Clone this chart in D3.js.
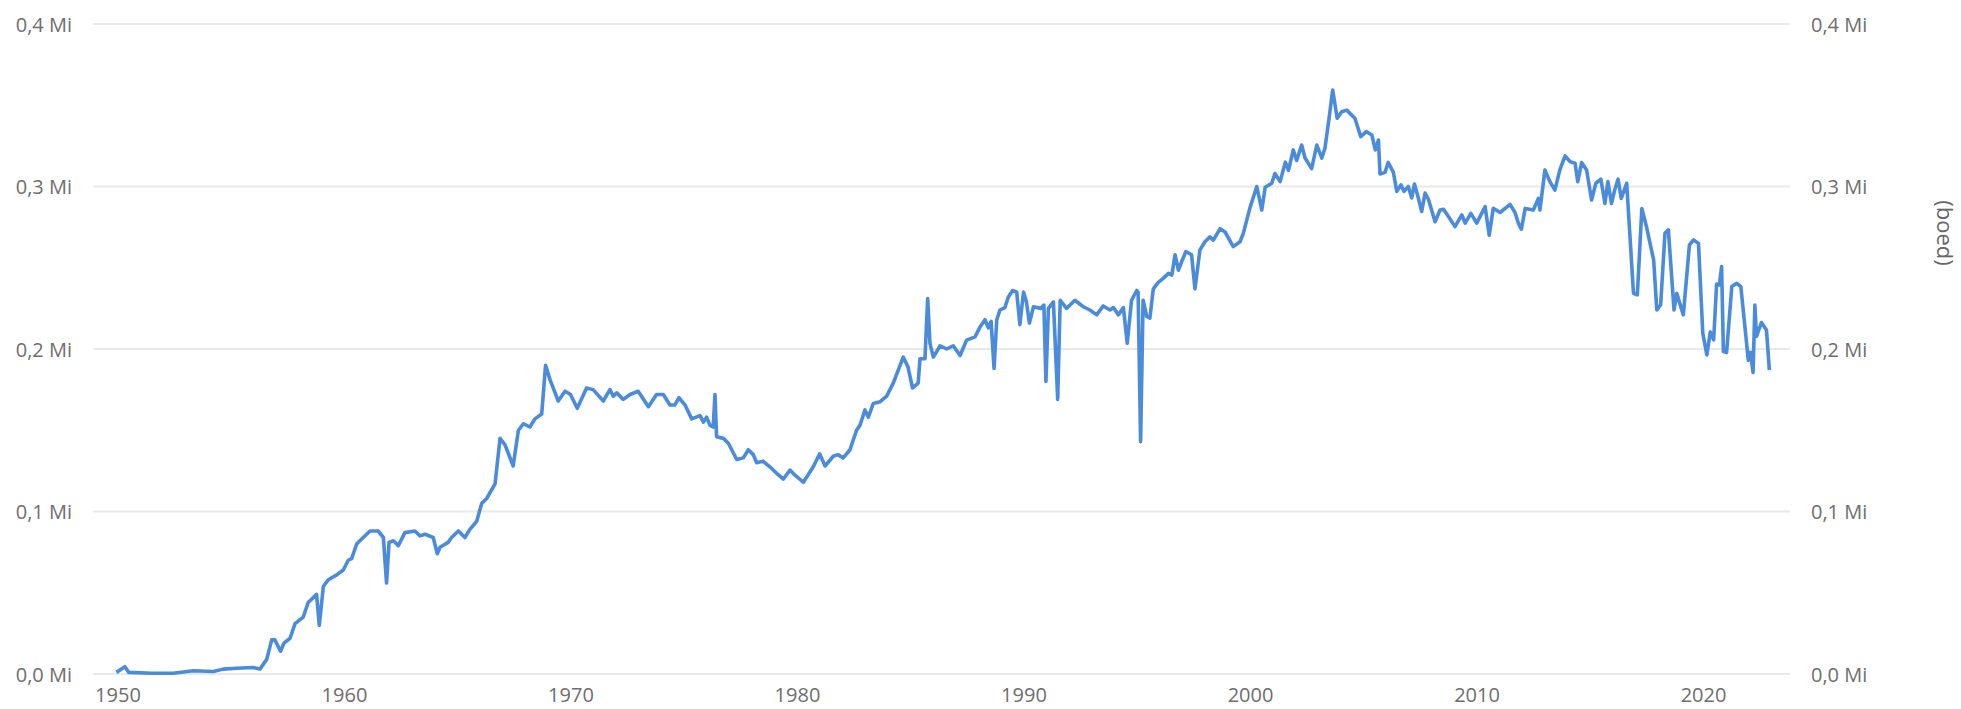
<!DOCTYPE html>
<html>
<head>
<meta charset="utf-8">
<script src="https://cdn.jsdelivr.net/npm/d3@7"></script>
<style>
  body { margin: 0; background: #fff; }
  svg text { font-family: "Open Sans", "Noto Sans", sans-serif; fill: #666; }
</style>
</head>
<body>
<div id="chart"></div>
<script>
// decimal years and production in thousand boed
const dates = [
  1949.95, 1950.33, 1950.5, 1951.5, 1952.46, 1953.35, 1954.23, 1954.67, 1955.26, 1956.0,
  1956.29, 1956.59, 1956.81, 1956.95, 1957.2, 1957.35, 1957.62, 1957.84, 1958.2, 1958.42,
  1958.79, 1958.91, 1959.09, 1959.31, 1959.68, 1959.97, 1960.19, 1960.34, 1960.56, 1960.85,
  1961.15, 1961.51, 1961.74, 1961.88, 1961.99, 1962.18, 1962.4, 1962.69, 1963.13, 1963.36,
  1963.58, 1963.94, 1964.12, 1964.24, 1964.6, 1964.75, 1965.05, 1965.34, 1965.56, 1965.86,
  1966.08, 1966.3, 1966.67, 1966.89, 1967.11, 1967.47, 1967.7, 1967.92, 1968.21, 1968.43,
  1968.73, 1968.9, 1969.1, 1969.46, 1969.76, 1970.0, 1970.3, 1970.71, 1971.0, 1971.45,
  1971.74, 1971.89, 1972.04, 1972.33, 1972.63, 1972.99, 1973.44, 1973.8, 1974.1, 1974.39,
  1974.6, 1974.79, 1975.06, 1975.35, 1975.72, 1975.87, 1976.01, 1976.16, 1976.3, 1976.38,
  1976.45, 1976.75, 1976.97, 1977.34, 1977.63, 1977.85, 1978.07, 1978.22, 1978.5, 1978.8,
  1979.1, 1979.4, 1979.69, 1979.9, 1980.28, 1980.72, 1981.0, 1981.24, 1981.6, 1981.8,
  1982.04, 1982.34, 1982.63, 1982.78, 1983.0, 1983.15, 1983.37, 1983.66, 1983.96, 1984.25,
  1984.69, 1984.9, 1985.1, 1985.35, 1985.43, 1985.65, 1985.77, 1985.87, 1986.02, 1986.32,
  1986.61, 1986.9, 1987.2, 1987.49, 1987.86, 1988.08, 1988.3, 1988.45, 1988.57, 1988.7,
  1988.82, 1988.96, 1989.18, 1989.33, 1989.52, 1989.7, 1989.84, 1990.0, 1990.13, 1990.26,
  1990.44, 1990.76, 1990.9, 1990.99, 1991.1, 1991.32, 1991.51, 1991.62, 1991.9, 1992.27,
  1992.64, 1992.93, 1993.23, 1993.52, 1993.82, 1993.97, 1994.19, 1994.41, 1994.58, 1994.77,
  1995.0, 1995.06, 1995.17, 1995.28, 1995.44, 1995.58, 1995.73, 1995.95, 1996.17, 1996.4,
  1996.55, 1996.69, 1996.84, 1996.99, 1997.17, 1997.42, 1997.57, 1997.79, 1998.01, 1998.23,
  1998.38, 1998.68, 1998.9, 1999.26, 1999.56, 1999.7, 1999.85, 2000.0, 2000.3, 2000.52,
  2000.67, 2000.96, 2001.1, 2001.33, 2001.56, 2001.7, 2001.91, 2002.06, 2002.28, 2002.43,
  2002.72, 2002.95, 2003.17, 2003.31, 2003.5, 2003.65, 2003.85, 2004.05, 2004.27, 2004.41,
  2004.63, 2004.89, 2005.13, 2005.38, 2005.53, 2005.67, 2005.74, 2005.96, 2006.1, 2006.33,
  2006.48, 2006.66, 2006.8, 2006.99, 2007.14, 2007.26, 2007.43, 2007.58, 2007.73, 2007.88,
  2008.17, 2008.39, 2008.54, 2008.76, 2009.05, 2009.35, 2009.5, 2009.75, 2010.01, 2010.38,
  2010.56, 2010.74, 2011.04, 2011.48, 2011.7, 2011.85, 2011.98, 2012.15, 2012.51, 2012.73,
  2012.8, 2013.02, 2013.24, 2013.46, 2013.68, 2013.91, 2014.13, 2014.35, 2014.47, 2014.64,
  2014.86, 2015.08, 2015.27, 2015.49, 2015.67, 2015.8, 2015.96, 2016.1, 2016.25, 2016.39,
  2016.63, 2016.93, 2017.1, 2017.3, 2017.52, 2017.82, 2017.96, 2018.13, 2018.32, 2018.47,
  2018.72, 2018.84, 2019.13, 2019.4, 2019.58, 2019.8, 2019.99, 2020.17, 2020.32, 2020.47,
  2020.6, 2020.72, 2020.82, 2020.9, 2021.04, 2021.27, 2021.49, 2021.67, 2022.0, 2022.1,
  2022.21, 2022.29, 2022.36, 2022.58, 2022.8, 2022.93
];
const production = [
  1, 4.5, 1, 0.5, 0.5, 2, 1.5, 3, 3.5, 4,
  3, 9, 21, 21, 14, 19, 22, 31, 35, 44,
  49, 30, 54, 58, 61, 64, 70, 71, 80, 84,
  88, 88, 84, 56, 81, 82, 79, 87, 88, 85,
  86, 84, 74, 78, 81, 84, 88, 84, 89, 94,
  105, 108, 117, 145, 141, 128, 150, 154, 152, 157,
  160, 190, 181, 168, 174, 172, 163.5, 176, 175, 168,
  175, 171, 173, 169, 172, 174, 164.5, 172, 172, 165.5,
  165.5, 170, 165.5, 157, 159, 155, 158, 153, 152, 172,
  146, 145, 142, 132, 133, 138, 135, 130, 131, 127.5,
  123.5, 120, 125.5, 122.5, 118, 127.5, 135.5, 128, 134, 135,
  133, 138, 150, 153, 162.5, 158, 166.5, 167.5, 171, 179,
  195, 189, 176, 179, 194, 194, 231, 203.5, 195, 202,
  200, 202, 196, 205.5, 207.5, 213.5, 218, 213, 217, 188,
  218, 224, 225.5, 232, 236, 235, 215, 235, 229, 216,
  226, 225, 227, 180, 225, 229, 169, 230, 225, 230,
  226, 224, 221, 226.5, 224, 225.5, 221, 225.5, 203.5, 230,
  236, 235, 143, 230, 220, 219, 237, 241, 243.5, 246.5,
  245.5, 258, 248.5, 254, 260, 258, 237, 261, 266, 269,
  267, 274, 272, 263, 266, 271, 279, 287, 300, 285.5,
  299.5, 302, 308, 303, 315, 310, 322.5, 316, 325.5, 317.5,
  311, 325.5, 317.5, 323.5, 343, 359.4, 342, 346, 347, 345,
  342, 330.7, 333.8, 331.7, 322.5, 328.6, 307.7, 308.7, 314.8, 308.7,
  297, 301, 297, 300, 293, 301.5, 293, 284.6, 296, 292,
  278.3, 285.5, 286, 281.5, 275.3, 282.5, 277.5, 283.5, 277.5, 287.6,
  270, 286.6, 284, 289, 284, 277.3, 273.7, 286.5, 285.5, 292.7,
  285.5, 310.2, 303, 297.8, 310.2, 318.8, 315.3, 314.3, 303, 314.7,
  310.2, 291.7, 302, 304.5, 289.6, 303, 289.6, 297.8, 304.5, 292.7,
  302, 234.3, 233.3, 286.5, 274.3, 254.8, 224, 227.2, 271.2, 273.3,
  224, 234.3, 221, 264, 267.1, 265, 209.7, 196.3, 210.5, 205.6,
  240, 239.4, 250.7, 198.4, 197.8, 238.4, 240.4, 238.4, 193, 198,
  185.5, 227, 207.7, 216.3, 211.7, 187
];
const yearTicks = [1950, 1960, 1970, 1980, 1990, 2000, 2010, 2020];
const valueTicks = [0, 100, 200, 300, 400];
const unitLabel = "(boed)";

const svgWidth = 1961;
const svgHeight = 709;
const data = dates.map((d, i) => ({year: d, value: production[i]}));

const svg = d3.select("#chart")
    .append("svg")
    .attr("width", svgWidth)
    .attr("height", svgHeight);

const xScale = d3.scaleLinear()
    .domain([1948.92, 2023.84])
    .range([93, 1790]);

const yScale = d3.scaleLinear()
    .domain([0, 400])
    .range([674, 24]);

const fmt = v => (v / 1000).toFixed(1).replace(".", ",") + " Mi";

// gridlines
svg.append("g")
    .selectAll("line")
    .data(valueTicks)
    .enter()
    .append("line")
    .attr("x1", xScale.range()[0])
    .attr("x2", xScale.range()[1])
    .attr("y1", d => yScale(d))
    .attr("y2", d => yScale(d))
    .style("stroke", "#e9e9e9")
    .style("stroke-width", 2);

const yLeft = d3.axisLeft(yScale).tickValues(valueTicks).tickFormat(fmt).tickSize(0).tickPadding(0);
const yRight = d3.axisRight(yScale).tickValues(valueTicks).tickFormat(fmt).tickSize(0).tickPadding(0);
const xAxis = d3.axisBottom(xScale).tickValues(yearTicks).tickFormat(d3.format("d")).tickSize(0).tickPadding(0);

svg.append("g")
    .attr("class", "yaxis")
    .attr("transform", "translate(72, 0)")
    .call(yLeft);

svg.append("g")
    .attr("class", "yaxis")
    .attr("transform", "translate(1811, 0)")
    .call(yRight);

svg.append("g")
    .attr("class", "xaxis")
    .attr("transform", "translate(0, 688)")
    .call(xAxis);

svg.selectAll(".domain").remove();
svg.selectAll(".tick text")
    .attr("font-size", 20)
    .style("font-family", "'Open Sans', sans-serif")
    .style("fill", "#6e6e6e");
svg.selectAll(".yaxis .tick text").attr("dy", "0.35em");

const line = d3.line()
    .x(d => xScale(d.year))
    .y(d => yScale(d.value));

svg.append("path")
    .datum(data)
    .attr("d", line)
    .style("fill", "none")
    .style("stroke", "#4a8bdc")
    .style("stroke-width", 3.6)
    .style("stroke-linejoin", "round");

svg.append("text")
    .attr("transform", "translate(1937, 233) rotate(90)")
    .attr("text-anchor", "middle")
    .attr("font-size", 22)
    .text(unitLabel);
</script>
</body>
</html>
